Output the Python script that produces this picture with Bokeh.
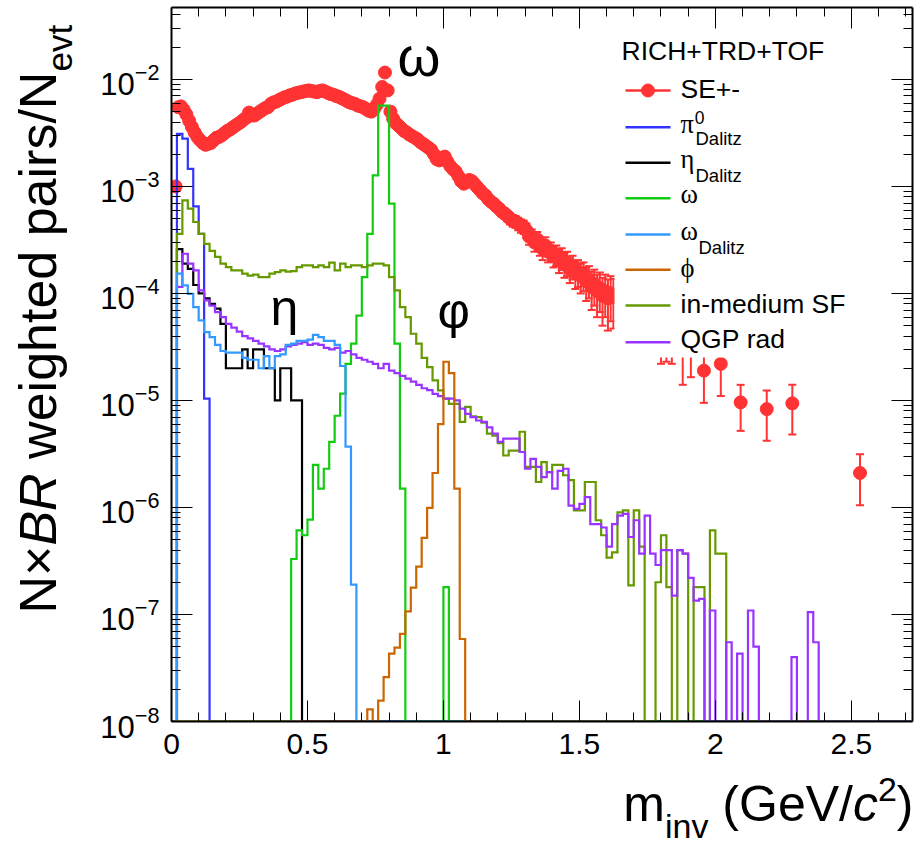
import glob
import math
import os

import numpy as np
from bokeh.embed import file_html
from bokeh.layouts import column, row
from bokeh.models import (CustomJSTickFormatter, FixedTicker, Label, LinearAxis,
                          LogAxis, LogTickFormatter, Range1d)
from bokeh.plotting import figure
from bokeh.resources import INLINE

# ------------------------------------------------------------------ data
BIN_W = 0.02          # histogram bin width (GeV/c^2), bins start at 0

pi0_dalitz = [0, 3.1e-3, 2.8e-3, 1.46e-3, 6.5e-4, 3.6e-4, 1.04e-5]

eta_dalitz = [0, 2.6e-4, 1.9e-4, 1.7e-4, 1.2e-4, 1.0e-4, 9.0e-5, 8.0e-5, 7.2e-5, 5.2e-5,
              2.0e-5, 2.0e-5, 2.0e-5, 3.0e-5, 2.0e-5, 3.0e-5, 3.0e-5, 2.0e-5, 2.0e-5, 1.0e-5,
              2.0e-5, 2.0e-5, 1.0e-5, 1.0e-5]

omega = [0, 0, 0, 0, 0, 0, 0, 0, 0, 0,
         0, 0, 0, 0, 0, 0, 0, 0, 0, 0,
         0, 0, 3.3e-7, 6.1e-7, 5.5e-7, 7.7e-7, 2.5e-6, 1.5e-6, 2.3e-6, 4.1e-6,
         7.2e-6, 1.16e-5, 2.2e-5, 3.4e-5, 6.2e-5, 1.42e-4, 3.6e-4, 1.27e-3, 5.7e-3, 5.7e-3,
         6.9e-4, 3.4e-5, 1.5e-6, 0, 0, 0, 0, 0, 0, 0,
         1.8e-7]

omega_dalitz = [0, 1.53e-4, 1.19e-4, 9.9e-5, 7.45e-5, 5.6e-5, 4.35e-5, 3.9e-5, 3.3e-5, 2.9e-5,
                2.8e-5, 2.8e-5, 2.8e-5, 2.5e-5, 2.4e-5, 2.4e-5, 2.0e-5, 2.6e-5, 2.0e-5, 2.6e-5,
                2.7e-5, 3.3e-5, 3.4e-5, 3.6e-5, 3.6e-5, 3.7e-5, 4.1e-5, 3.9e-5, 3.6e-5, 3.6e-5,
                3.3e-5, 2.1e-5, 3.7e-6, 1.9e-7]

phi = [0, 0, 0, 0, 0, 0, 0, 0, 0, 0,
       0, 0, 0, 0, 0, 0, 0, 0, 0, 0,
       0, 0, 0, 0, 0, 0, 0, 0, 0, 0,
       0, 0, 0, 0, 0, 0, 1.3e-8, 0, 1.57e-8, 2.6e-8,
       4.3e-8, 4.9e-8, 6.6e-8, 1.07e-7, 1.78e-7, 2.8e-7, 5.2e-7, 9.9e-7, 2.1e-6, 6.0e-6,
       2.3e-5, 1.8e-5, 1.5e-6, 5.9e-8]

inmed_sf = [0, 3.6e-4, 7.4e-4, 6.2e-4, 4.65e-4, 3.6e-4, 2.9e-4, 2.5e-4, 2.2e-4, 1.9e-4,
            1.76e-4, 1.64e-4, 1.64e-4, 1.53e-4, 1.47e-4, 1.5e-4, 1.42e-4, 1.42e-4, 1.53e-4, 1.58e-4,
            1.64e-4, 1.6e-4, 1.62e-4, 1.76e-4, 1.83e-4, 1.83e-4, 1.76e-4, 1.83e-4, 1.76e-4, 1.94e-4,
            1.64e-4, 1.9e-4, 1.76e-4, 1.83e-4, 1.83e-4, 1.76e-4, 1.83e-4, 1.9e-4, 1.9e-4, 1.83e-4,
            1.42e-4, 1.07e-4, 7.45e-5, 6.0e-5, 4.2e-5, 3.4e-5, 2.5e-5, 2.05e-5, 1.54e-5, 1.24e-5,
            1.04e-5, 9.3e-6, 9.3e-6, 6.3e-6, 8.7e-6, 7.1e-6, 7.0e-6, 6.2e-6, 4.9e-6, 4.7e-6,
            4.0e-6, 3.06e-6, 3.4e-6, 3.4e-6, 5.1e-6, 2.4e-6, 2.4e-6, 1.73e-6, 2.65e-6, 2.14e-6,
            2.5e-6, 2.5e-6, 2.0e-6, 1.8e-6, 9.4e-7, 9.4e-7, 1.73e-6, 1.73e-6, 7.6e-7, 5.5e-7,
            3.4e-7, 3.8e-7, 9.0e-7, 9.4e-7, 1.87e-7, 9.4e-7, 4.3e-7, 0, 0, 2.0e-7,
            5.5e-7, 1.8e-7, 0, 4.0e-7, 3.7e-7, 0, 1.8e-7, 1.8e-7, 0, 6.1e-7,
            3.7e-7, 3.7e-7]

qgp_rad = [0, 1.15e-4, 2.35e-4, 1.9e-4, 1.64e-4, 1.07e-4, 8.6e-5, 7.7e-5, 6.7e-5, 6.0e-5,
           5.2e-5, 4.8e-5, 4.4e-5, 4.0e-5, 3.8e-5, 3.6e-5, 3.4e-5, 3.2e-5, 3.0e-5, 2.9e-5,
           3.0e-5, 3.2e-5, 3.3e-5, 3.4e-5, 3.5e-5, 3.3e-5, 3.4e-5, 3.3e-5, 3.1e-5, 3.0e-5,
           3.1e-5, 2.8e-5, 2.9e-5, 2.7e-5, 2.5e-5, 2.4e-5, 2.3e-5, 2.2e-5, 2.0e-5, 2.2e-5,
           1.9e-5, 1.8e-5, 1.7e-5, 1.6e-5, 1.5e-5, 1.4e-5, 1.3e-5, 1.25e-5, 1.15e-5, 1.1e-5,
           1.04e-5, 1.04e-5, 1.0e-5, 8.4e-6, 7.5e-6, 7.0e-6, 6.5e-6, 6.3e-6, 5.6e-6, 4.9e-6,
           4.1e-6, 4.4e-6, 4.4e-6, 4.4e-6, 3.3e-6, 2.3e-6, 2.85e-6, 2.4e-6, 1.92e-6, 2.14e-6,
           1.5e-6, 2.2e-6, 2.3e-6, 1.04e-6, 9.7e-7, 1.08e-6, 1.25e-6, 7.0e-7, 7.0e-7, 6.5e-7,
           4.3e-7, 7.0e-7, 8.4e-7, 8.7e-7, 5.3e-7, 7.6e-7, 3.7e-7, 8.4e-7, 3.7e-7, 2.9e-7,
           4.0e-7, 4.0e-7, 1.5e-7, 4.0e-7, 3.7e-7, 2.2e-7, 1.35e-7, 1.4e-7, 0, 1.09e-7,
           0, 0, 5.5e-8, 0, 4.3e-8, 0, 1.09e-7, 5.0e-8, 0, 0,
           0, 0, 0, 0, 4.0e-8, 0, 0, 1.05e-7, 5.5e-8]

# SE+- data: dense points (0.01 GeV/c^2 spacing, first centre 0.015)
SE_M0, SE_DM = 0.015, 0.01
se_val = [1.0e-3, 5.5e-3, 5.6e-3, 5.2e-3, 4.7e-3, 4.1e-3, 3.6e-3, 3.2e-3, 2.9e-3, 2.7e-3,
          2.55e-3, 2.45e-3, 2.5e-3, 2.55e-3, 2.7e-3, 2.85e-3, 2.9e-3, 3.0e-3, 3.15e-3, 3.3e-3,
          3.4e-3, 3.55e-3, 3.7e-3, 3.85e-3, 4.0e-3, 4.2e-3, 4.4e-3, 4.9e-3, 4.6e-3, 4.6e-3,
          4.8e-3, 5.0e-3, 5.2e-3, 5.4e-3, 5.5e-3, 5.9e-3, 6.1e-3, 6.2e-3, 6.4e-3, 6.6e-3,
          6.8e-3, 6.9e-3, 7.1e-3, 7.2e-3, 7.4e-3, 7.5e-3, 7.6e-3, 7.7e-3, 7.8e-3, 7.9e-3,
          7.8e-3, 7.7e-3, 7.6e-3, 7.8e-3, 7.9e-3, 7.7e-3, 7.5e-3, 7.3e-3, 7.2e-3, 7.0e-3,
          6.9e-3, 6.7e-3, 6.5e-3, 6.3e-3, 6.1e-3, 6.0e-3, 5.9e-3, 5.7e-3, 5.6e-3, 5.5e-3,
          5.3e-3, 5.1e-3, 5.0e-3, 5.3e-3, 5.8e-3, 6.6e-3, 8.5e-3, 1.16e-2, 7.9e-3, 5.0e-3,
          4.3e-3, 3.9e-3, 3.7e-3, 3.5e-3, 3.3e-3, 3.2e-3, 3.05e-3, 2.95e-3, 2.85e-3, 2.75e-3,
          2.6e-3, 2.5e-3, 2.4e-3, 2.3e-3, 2.2e-3, 2.0e-3, 1.8e-3, 1.75e-3, 1.85e-3, 1.9e-3,
          1.7e-3, 1.55e-3, 1.45e-3, 1.38e-3, 1.25e-3, 1.12e-3, 1.06e-3, 1.1e-3, 1.15e-3, 1.12e-3,
          1.05e-3, 9.8e-4, 9.2e-4, 8.6e-4, 8.2e-4, 7.6e-4, 7.2e-4, 6.9e-4, 6.5e-4, 6.2e-4,
          5.8e-4, 5.6e-4, 5.3e-4, 5.0e-4, 4.8e-4, 4.7e-4, 4.5e-4, 4.3e-4, 4.2e-4, 3.9e-4,
          3.4e-4, 3.4e-4, 3.0e-4, 3.2e-4, 2.8e-4, 2.6e-4, 2.8e-4, 2.45e-4, 2.5e-4, 2.25e-4,
          2.3e-4, 2.05e-4, 2.15e-4, 1.9e-4, 1.95e-4, 1.7e-4, 1.8e-4, 1.55e-4, 1.6e-4, 1.45e-4,
          1.5e-4, 1.3e-4, 1.35e-4, 1.15e-4, 1.22e-4, 1.05e-4, 1.12e-4, 9.5e-5, 1.05e-4, 9.0e-5,
          1.0e-4, 9.2e-5]
se_err = [3e-5, 1.1e-4, 1.1e-4, 1.0e-4, 9e-5, 8e-5, 7e-5, 6e-5, 6e-5, 5e-5,
          5e-5, 5e-5, 5e-5, 5e-5, 5e-5, 6e-5, 6e-5, 6e-5, 6e-5, 7e-5,
          7e-5, 7e-5, 7e-5, 8e-5, 8e-5, 8e-5, 9e-5, 1.0e-4, 9e-5, 9e-5,
          9e-5, 1.0e-4, 1.0e-4, 1.0e-4, 1.0e-4, 1.1e-4, 1.1e-4, 1.1e-4, 1.2e-4, 1.2e-4,
          1.2e-4, 1.2e-4, 1.3e-4, 1.3e-4, 1.3e-4, 1.3e-4, 1.3e-4, 1.4e-4, 1.4e-4, 1.4e-4,
          1.4e-4, 1.4e-4, 1.4e-4, 1.4e-4, 1.4e-4, 1.4e-4, 1.4e-4, 1.3e-4, 1.3e-4, 1.3e-4,
          1.3e-4, 1.3e-4, 1.3e-4, 1.2e-4, 1.2e-4, 1.2e-4, 1.2e-4, 1.2e-4, 1.2e-4, 1.2e-4,
          1.1e-4, 1.1e-4, 1.1e-4, 1.2e-4, 1.3e-4, 1.4e-4, 1.6e-4, 2.0e-4, 1.6e-4, 1.2e-4,
          1.1e-4, 1.0e-4, 1.0e-4, 1.0e-4, 9e-5, 9e-5, 9e-5, 9e-5, 9e-5, 9e-5,
          8e-5, 8e-5, 8e-5, 8e-5, 8e-5, 8e-5, 7e-5, 7e-5, 7e-5, 7e-5,
          7e-5, 7e-5, 7e-5, 7e-5, 6e-5, 6e-5, 6e-5, 6e-5, 6e-5, 6e-5,
          6e-5, 6e-5, 6e-5, 6e-5, 6e-5, 6e-5, 6e-5, 6e-5, 6e-5, 6e-5,
          6e-5, 6e-5, 6e-5, 6e-5, 6e-5, 6e-5, 6e-5, 6e-5, 6e-5, 6e-5,
          5.5e-5, 5.5e-5, 5.5e-5, 5.5e-5, 5.5e-5, 5.5e-5, 5.5e-5, 5e-5, 5e-5, 5e-5,
          5e-5, 5e-5, 5e-5, 5e-5, 5e-5, 4.5e-5, 4.5e-5, 4.5e-5, 4.5e-5, 4.5e-5,
          4.5e-5, 4.5e-5, 4.5e-5, 4.5e-5, 4.5e-5, 4.5e-5, 4.5e-5, 4.5e-5, 4.5e-5, 4.5e-5,
          4.5e-5, 4.5e-5]

# SE+- data: sparse high-mass points
se_hi_mass = [1.80, 1.82, 1.84, 1.88, 1.91, 1.958, 2.02, 2.093, 2.189, 2.283, 2.532]
se_hi_val = [3.5e-5, 3.6e-5, 3.4e-5, 3.0e-5, 3.0e-5, 1.9e-5, 2.2e-5, 9.6e-6, 8.3e-6, 9.4e-6, 2.1e-6]
se_hi_err = [1.3e-5, 1.3e-5, 1.2e-5, 1.6e-5, 1.35e-5, 9.5e-6, 1.1e-5, 4.4e-6, 4.1e-6, 4.6e-6, 1.05e-6]

x_ticks = [0, 0.5, 1, 1.5, 2, 2.5]
legend_title = "RICH+TRD+TOF"

# ------------------------------------------------------------------ styles / layout
RED, BLUE, BLACK, GREEN = "#FF3333", "#3333FF", "#000000", "#11CC11"
LBLUE, ORANGE, OLIVE, PURPLE = "#3399FF", "#CC6600", "#669900", "#9933FF"
SANS, SERIF = "Liberation Sans", "Liberation Serif"
NBSP = "\u00a0"

PAGE_W, PAGE_H = 916, 844
XMAX = 2.725
YMIN, YMAX = 1e-8, 0.047
FL, FT, FW, FH = 171, 7, 741, 714          # plot frame in page pixels
FB = FT + FH
YT_W = 85                                   # strip holding the y title
MAIN_H = FB + 50                            # main figure height (frame + x tick labels)
XT_H = PAGE_H - MAIN_H                      # strip holding the x title
LOGSPAN = math.log10(YMAX) - math.log10(YMIN)
BASE_SHIFT = 0.35                           # label anchor vs. glyph baseline (em)


def X(px):
    return (px - FL) / FW * XMAX


def Y(py):
    return 10 ** (math.log10(YMIN) + (FB - py) / FH * LOGSPAN)


def _font_file(name):
    for root in ("/usr/share/fonts", "/usr/local/share/fonts", os.path.expanduser("~/.fonts")):
        hits = glob.glob(os.path.join(root, "**", name), recursive=True)
        if hits:
            return hits[0]
    return None


_FILES = {("sans", "normal"): "LiberationSans-Regular.ttf",
          ("sans", "italic"): "LiberationSans-Italic.ttf",
          ("serif", "normal"): "LiberationSerif-Regular.ttf"}
_cache = {}


def tw(text, size, fam="sans", style="normal"):
    text = text.replace(" ", NBSP)
    key = (fam, style, size)
    if key not in _cache:
        f = None
        try:
            from PIL import ImageFont
            path = _font_file(_FILES[(fam, style)])
            if path:
                f = ImageFont.truetype(path, size)
        except Exception:
            f = None
        _cache[key] = f
    f = _cache[key]
    if f is not None:
        try:
            return f.getlength(text)
        except Exception:
            pass
    return 0.56 * size * len(text)


def add_label(fig, xconv, yconv, px, py, text, size, fam=SANS, style="normal", angle=0,
              color="black"):
    """px, py: wanted glyph-baseline position in page pixels."""
    if angle == 0:
        py = py - BASE_SHIFT * size
    else:
        px = px - BASE_SHIFT * size
    fig.add_layout(Label(x=xconv(px), y=yconv(py), text=text.replace(" ", NBSP),
                         text_font=fam, text_font_style=style, text_font_size=f"{size}px",
                         text_color=color, angle=angle, angle_units="deg",
                         text_align="left", text_baseline="alphabetic"))


def blank_fig(w, h):
    f = figure(frame_width=w, frame_height=h, x_range=Range1d(0, w), y_range=Range1d(0, h),
               output_backend="svg", toolbar_location=None, min_border=0,
               x_axis_location=None, y_axis_location=None)
    f.min_border_left = f.min_border_right = f.min_border_top = f.min_border_bottom = 0
    f.outline_line_color = None
    f.background_fill_color = "white"
    f.border_fill_color = "white"
    f.xgrid.visible = False
    f.ygrid.visible = False
    return f


# ------------------------------------------------------------------ main figure
p = figure(frame_width=FW, frame_height=FH,
           x_range=Range1d(0, XMAX), y_range=Range1d(YMIN, YMAX),
           y_axis_type="log", output_backend="svg", toolbar_location=None,
           min_border_left=FL - YT_W, min_border_right=PAGE_W - FL - FW,
           min_border_top=FT, min_border_bottom=MAIN_H - FB)
p.background_fill_color = "white"
p.border_fill_color = "white"
p.outline_line_color = None
p.xgrid.visible = False
p.ygrid.visible = False

y_major = [10.0 ** e for e in range(-8, -1)]
y_minor = [k * 10.0 ** e for e in range(-8, -1) for k in range(2, 10)]
x_minor = [round(0.1 * i, 1) for i in range(0, 28)]


def style_axis(ax):
    ax.axis_line_color = "black"
    ax.axis_line_width = 2
    ax.major_tick_in = 21
    ax.major_tick_out = 0
    ax.minor_tick_in = 9
    ax.minor_tick_out = 0
    ax.major_tick_line_color = "black"
    ax.minor_tick_line_color = "black"
    ax.major_tick_line_width = 1
    ax.minor_tick_line_width = 1
    ax.major_label_text_font = SANS
    ax.major_label_text_color = "black"


xa = p.xaxis[0]
xa.ticker = FixedTicker(ticks=x_ticks, minor_ticks=x_minor)
xa.formatter = CustomJSTickFormatter(code="return tick.toString()")
style_axis(xa)
xa.major_label_text_font_size = "30px"
xa.major_label_standoff = 12

ya = p.yaxis[0]
ya.ticker = FixedTicker(ticks=y_major, minor_ticks=y_minor)
ya.formatter = LogTickFormatter()
style_axis(ya)
ya.major_label_text_font_size = "31px"
ya.major_label_standoff = 12

blank = CustomJSTickFormatter(code="return ''")
ra = LogAxis(ticker=FixedTicker(ticks=y_major, minor_ticks=y_minor), formatter=blank,
             major_label_standoff=0, major_label_text_font_size="1px")
style_axis(ra)
p.add_layout(ra, "right")
ta = LinearAxis(ticker=FixedTicker(ticks=x_ticks, minor_ticks=x_minor), formatter=blank,
                major_label_standoff=0, major_label_text_font_size="1px")
style_axis(ta)
p.add_layout(ta, "above")

# SE+- data points with error bars
se_mass = np.round(SE_M0 + SE_DM * np.arange(len(se_val)), 3)
all_m = np.concatenate([se_mass, se_hi_mass])
all_v = np.concatenate([se_val, se_hi_val])
all_e = np.concatenate([se_err, se_hi_err])
lo = np.maximum(all_v - all_e, YMIN)
hi = all_v + all_e
p.segment(x0=all_m, x1=all_m, y0=lo, y1=hi, line_color=RED, line_width=2)
p.scatter(x=np.concatenate([all_m, all_m]), y=np.concatenate([lo, hi]), marker="dash",
          size=8, line_color=RED, line_width=2)
p.scatter(x=all_m, y=all_v, marker="circle", size=13, fill_color=RED, line_color=RED)

# histograms
N_BINS = 136


def step_xy(vals, nb):
    v = np.zeros(nb)
    v[:len(vals)] = vals
    v = np.where(v > 0, v, YMIN)
    edges = np.arange(nb + 1) * BIN_W
    return np.repeat(edges, 2)[1:-1], np.repeat(v, 2)


hists = [(pi0_dalitz, BLUE, N_BINS), (eta_dalitz, BLACK, N_BINS), (omega, GREEN, N_BINS),
         (inmed_sf, OLIVE, N_BINS), (qgp_rad, PURPLE, N_BINS),
         (omega_dalitz, LBLUE, 87), (phi, ORANGE, 87)]
for vals, col, nb in hists:
    xs, ys = step_xy(vals, nb)
    p.line(xs, ys, line_color=col, line_width=2.2, line_join="miter")

# legend (drawn by hand so that sub/superscripts are possible)
LEG_L, LEG_R, LEG_T, LEG_B = 614, 906, 33, 357
p.quad(left=[X(LEG_L)], right=[X(LEG_R)], top=[Y(LEG_T)], bottom=[Y(LEG_B)],
       fill_color="white", line_color=None)
rows = [90, 126.7, 162.3, 197.7, 234, 269.3, 305, 341.7]
row_cols = [RED, BLUE, BLACK, GREEN, LBLUE, ORANGE, OLIVE, PURPLE]
p.segment(x0=[X(625)] * len(rows), x1=[X(670)] * len(rows), y0=[Y(r) for r in rows],
          y1=[Y(r) for r in rows], line_color=row_cols, line_width=2.5)
p.scatter(x=[X(647.5)], y=[Y(rows[0])], marker="circle", size=13, fill_color=RED, line_color=RED)


def lab(px, py, text, size, fam=SANS, style="normal"):
    add_label(p, X, Y, px, py, text, size, fam, style)


LF = 26.5
SUB = 18.5
TX = 680
lab(621, 60, legend_title, LF)
lab(TX, 98, "SE+-", LF)
lab(TX, 133, "π", LF, SERIF)
lab(TX + tw("π", 26, "serif") + 1, 123, "0", 17.5)
lab(TX + 15, 144, "Dalitz", SUB)
lab(TX, 168, "η", LF, SERIF)
lab(TX + 15, 181, "Dalitz", SUB)
lab(TX, 203, "ω", LF, SERIF)
lab(TX, 240, "ω", LF, SERIF)
lab(TX + 18, 253, "Dalitz", SUB)
lab(TX, 277, "ϕ", LF, SERIF)
lab(TX, 313, "in-medium SF", LF)
lab(TX, 348, "QGP rad", LF)

# big peak labels
lab(397, 76, "ω", 55)
lab(270, 325, "η", 50)
lab(437, 328, "φ", 50)

# ------------------------------------------------------------------ y title strip
yt = blank_fig(YT_W, MAIN_H)


def ytX(px):
    return px


def ytY(py):
    return MAIN_H - py


YT_BASE, YT_START, YT_F, YT_SUB = 56, 606, 52, 35
cur = YT_START
for txt, size, style, shift in [("N×", YT_F, "normal", 0), ("BR", YT_F, "italic", 0),
                                 (" weighted pairs/N", YT_F, "normal", 0),
                                 ("evt", YT_SUB, "normal", 15)]:
    add_label(yt, ytX, ytY, YT_BASE + shift, cur, txt, size, SANS, style, angle=90)
    cur -= tw(txt, size, "sans", style)

# ------------------------------------------------------------------ x title strip
xt = blank_fig(PAGE_W, XT_H)


def xtX(px):
    return px


def xtY(py):
    return PAGE_H - py


XT_RIGHT, XT_BASE, XT_F, XT_S = 913, 821, 50, 34
parts = [("m", XT_F, "normal", 0), ("inv", XT_S, "normal", 16), (" (GeV/", XT_F, "normal", 0),
         ("c", XT_F, "italic", 0), ("2", XT_S, "normal", -20), (")", XT_F, "normal", 0)]
total = sum(tw(t, s, "sans", st) for t, s, st, _ in parts)
cx = XT_RIGHT - total
for t, s, st, dy in parts:
    add_label(xt, xtX, xtY, cx, XT_BASE + dy, t, s, SANS, st)
    cx += tw(t, s, "sans", st)

layout = column(row(yt, p, spacing=0), xt, spacing=0)
open("out.html", "w").write(file_html(layout, INLINE))
